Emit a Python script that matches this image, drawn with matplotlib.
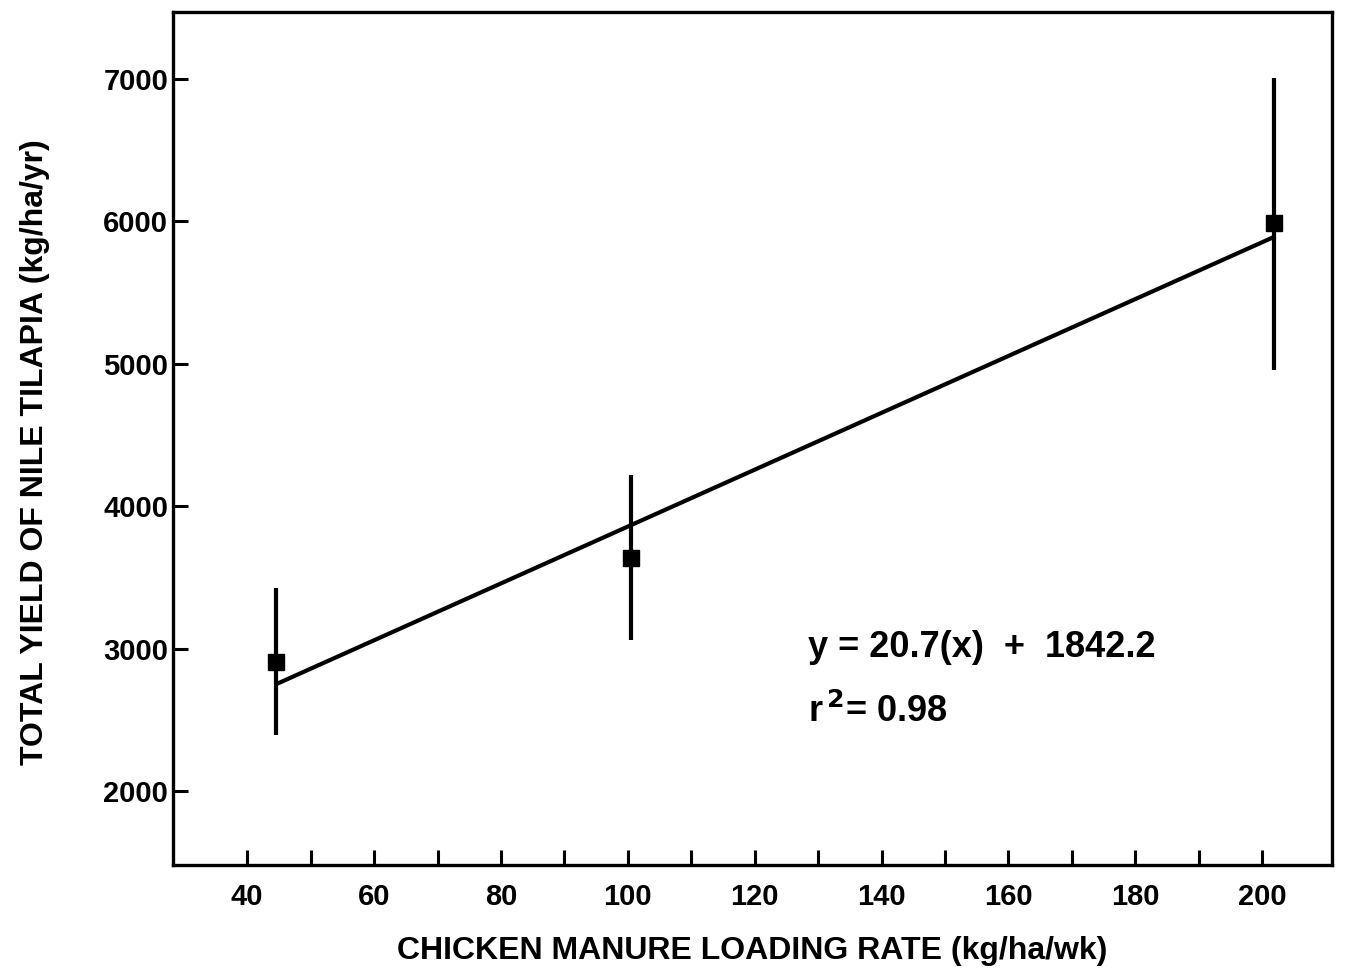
"""
Tilapia yield vs chicken manure loading rate: means with error bars and fitted line.
"""

import matplotlib.pyplot as plt
from matplotlib.ticker import FixedLocator, MultipleLocator

plt.rcParams["font.family"] = ["Liberation Sans", "DejaVu Sans"]
plt.rcParams["font.weight"] = "bold"

# ------------------------------------------------ data
loading_rate = [44.5, 100.5, 201.8]          # kg/ha/wk
yield_mean = [2905, 3636, 5990]              # kg/ha/yr
yield_low = [2393, 3060, 4956]
yield_high = [3426, 4219, 7007]

fit_x = [44.8, 201.8]
fit_y = [2755, 5890]

equation = "y = 20.7(x)  +  1842.2"
r2_text = r"r$^{\,\mathbf{2}}$= 0.98"

err_lo = [m - lo for m, lo in zip(yield_mean, yield_low)]
err_hi = [hi - m for m, hi in zip(yield_mean, yield_high)]

# ------------------------------------------------ figure
fig = plt.figure(figsize=(13.56, 9.77), dpi=100)
ax = fig.add_axes([0.1276, 0.1146, 0.8547, 0.873])

ax.plot(fit_x, fit_y, color="black", lw=3)
ax.errorbar(loading_rate, yield_mean, yerr=[err_lo, err_hi], fmt="s",
            color="black", ms=11, elinewidth=3, capsize=0, zorder=3)

ax.set_xlim(28.3, 211)
ax.set_ylim(1480, 7470)
ax.xaxis.set_major_locator(MultipleLocator(20))
ax.xaxis.set_minor_locator(FixedLocator(range(50, 200, 20)))
ax.set_yticks(range(2000, 7001, 1000))

ax.tick_params(axis="both", which="both", direction="in", length=11,
               width=2.2, labelsize=21, colors="black")
ax.tick_params(axis="x", which="major", pad=13)
ax.tick_params(axis="y", which="major", pad=3.5)
ax.tick_params(top=False, right=False, which="both")
for s in ax.spines.values():
    s.set_linewidth(2.4)

ax.set_xlabel("CHICKEN MANURE LOADING RATE (kg/ha/wk)", fontsize=23,
              labelpad=18, fontweight="bold")
ax.set_ylabel("TOTAL YIELD OF NILE TILAPIA (kg/ha/yr)", fontsize=23,
              fontweight="bold")
ax.yaxis.set_label_coords(-0.106, 0.484)

ax.text(0.548, 0.244, equation, transform=ax.transAxes, fontsize=26,
        va="baseline", ha="left", fontweight="bold")
ax.text(0.548, 0.168, r2_text, transform=ax.transAxes, fontsize=26,
        va="baseline", ha="left", fontweight="bold")

fig.savefig("out.png", dpi=100)
